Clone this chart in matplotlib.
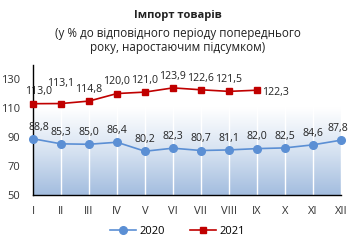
import matplotlib
matplotlib.use("Agg")
import matplotlib.pyplot as plt
import numpy as np
from matplotlib.colors import LinearSegmentedColormap

months = ["I", "II", "III", "IV", "V", "VI", "VII", "VIII", "IX", "X", "XI", "XII"]
v2020 = [88.8, 85.3, 85.0, 86.4, 80.2, 82.3, 80.7, 81.1, 82.0, 82.5, 84.6, 87.8]
v2021 = [113.0, 113.1, 114.8, 120.0, 121.0, 123.9, 122.6, 121.5, 122.3]
yticks = [50, 70, 90, 110, 130]

plt.rcParams['font.family'] = ['Open Sans', 'DejaVu Sans']

fig = plt.figure(figsize=(3.55, 2.4), dpi=100)
ax = fig.add_axes([0.093, 0.1875, 0.867, 0.5435])
x = np.arange(len(months))
ax.set_xlim(0, 11)
ax.set_ylim(50, 140)

# gradient background
cmap = LinearSegmentedColormap.from_list("g", ["#a3bddf", "#d6e2f1", "#ffffff", "#ffffff"], N=256)
grad = np.linspace(0, 1, 256).reshape(-1, 1)
ax.imshow(grad, aspect='auto', cmap=cmap, origin='lower', extent=[0, 11, 50, 140], zorder=0)

for xi in x[1:]:
    ax.axvline(xi, color='white', lw=1.0, zorder=1)

ax.plot(x, v2020, color='#5b8fd4', lw=1.2, marker='o', ms=5.5, label='2020', zorder=3, clip_on=False)
ax.plot(x[:len(v2021)], v2021, color='#c00000', lw=1.2, marker='s', ms=5, label='2021', zorder=3, clip_on=False)

fs = 7.6
def fmt(v):
    return f"{v:.1f}".replace('.', ',')

for i, (xi, v) in enumerate(zip(x, v2020)):
    dx = 4 if i == 0 else (-2 if i == 11 else 0)
    ax.annotate(fmt(v), (xi, v), xytext=(dx, 4.5), textcoords='offset points', ha='center', va='bottom', fontsize=fs, color='#222222')
for i, (xi, v) in enumerate(zip(x, v2021)):
    if i == 8:
        ax.annotate(fmt(v), (xi, v), xytext=(4, -2), textcoords='offset points', ha='left', va='center', fontsize=fs, color='#222222')
    elif i == 1:
        ax.annotate(fmt(v), (xi, v), xytext=(0, 10.5), textcoords='offset points', ha='center', va='bottom', fontsize=fs, color='#222222')
    else:
        dx = 4 if i == 0 else 0
        ax.annotate(fmt(v), (xi, v), xytext=(dx, 4.5), textcoords='offset points', ha='center', va='bottom', fontsize=fs, color='#222222')

ax.set_xticks(x)
ax.set_xticklabels(months, fontsize=8, color='#333333')
ax.set_yticks(yticks)
ax.set_yticklabels([str(t) for t in yticks], fontsize=8, color='#333333')
ax.tick_params(length=0, pad=8)
ax.tick_params(axis='y', pad=9)
for s in ['top', 'right']:
    ax.spines[s].set_visible(False)
ax.spines['left'].set_color('black')
ax.spines['bottom'].set_color('black')
ax.spines['left'].set_linewidth(1.0)
ax.spines['bottom'].set_linewidth(1.0)

fig.text(0.5, 0.935, "Імпорт товарів", ha='center', va='center', fontsize=8, fontweight='bold', color='#222222')
fig.text(0.5, 0.862, "(у % до відповідного періоду попереднього", ha='center', va='center', fontsize=8.4, color='#222222')
fig.text(0.5, 0.804, "року, наростаючим підсумком)", ha='center', va='center', fontsize=8.4, color='#222222')

fig.legend(loc='center', bbox_to_anchor=(0.5, 0.035), ncol=2, frameon=False, fontsize=8,
           handlelength=2.3, columnspacing=2.3, handletextpad=0.3)

fig.savefig("out.png", dpi=100)
